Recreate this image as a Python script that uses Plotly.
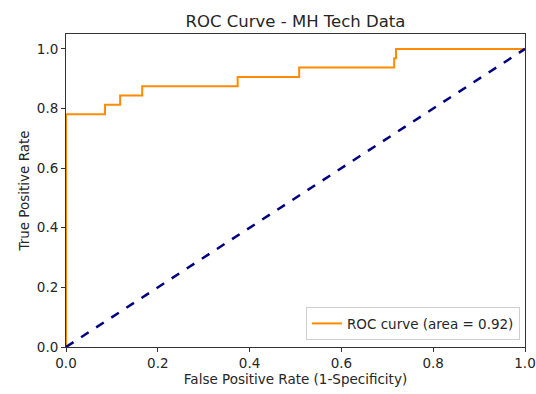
import plotly.graph_objects as go

# ROC curve data
fpr = [0.0, 0.0, 0.0, 0.085, 0.085, 0.118, 0.118, 0.166, 0.166, 0.374, 0.374, 0.508, 0.508, 0.715, 0.715, 0.719, 0.719, 1.0]
tpr = [0.0, 0.75, 0.781, 0.781, 0.8125, 0.8125, 0.844, 0.844, 0.875, 0.875, 0.906, 0.906, 0.9375, 0.9375, 0.969, 0.969, 1.0, 1.0]
roc_auc = 0.92
diag_x = [0, 1]
diag_y = [0, 1]
ticks = [0.0, 0.2, 0.4, 0.6, 0.8, 1.0]

fig = go.Figure()
fig.add_trace(go.Scatter(x=fpr, y=tpr, mode="lines", line=dict(color="darkorange", width=2),
                         name="ROC curve (area = %0.2f)" % roc_auc))
fig.add_trace(go.Scatter(x=diag_x, y=diag_y, mode="lines", line=dict(color="navy", width=2.5, dash="dash"),
                         showlegend=False))

font = "DejaVu Sans, sans-serif"
fig.update_layout(
    width=536, height=394,
    margin=dict(l=66, r=11, t=34, b=47),
    paper_bgcolor="white", plot_bgcolor="white",
    font=dict(family=font, size=13.5, color="#262626"),
    title=dict(text="ROC Curve - MH Tech Data", x=(66 + 525) / 2 / 536, xanchor="center",
               y=1 - 21 / 394, yanchor="middle", font=dict(size=16.5, color="#262626")),
    legend=dict(x=0.989, y=0.022, xanchor="right", yanchor="bottom",
                bordercolor="#d0d0d0", borderwidth=1, bgcolor="rgba(255,255,255,0.8)",
                font=dict(size=13.5)),
)
fig.update_xaxes(range=[0, 1], tickvals=ticks, tickformat=".1f", showgrid=False, zeroline=False,
                 showline=True, linecolor="#333", linewidth=1, mirror=True, automargin=False,
                 ticks="outside", ticklen=4, tickcolor="#333",
                 title=dict(text="False Positive Rate (1-Specificity)", font=dict(size=13.5), standoff=2))
fig.update_yaxes(range=[0, 1.05], tickvals=ticks, tickformat=".1f", showgrid=False, zeroline=False,
                 showline=True, linecolor="#333", linewidth=1, mirror=True, automargin=False,
                 ticks="outside", ticklen=4, tickcolor="#333",
                 title=dict(text="True Positive Rate", font=dict(size=13.5), standoff=4))

fig.write_html("out.html")
